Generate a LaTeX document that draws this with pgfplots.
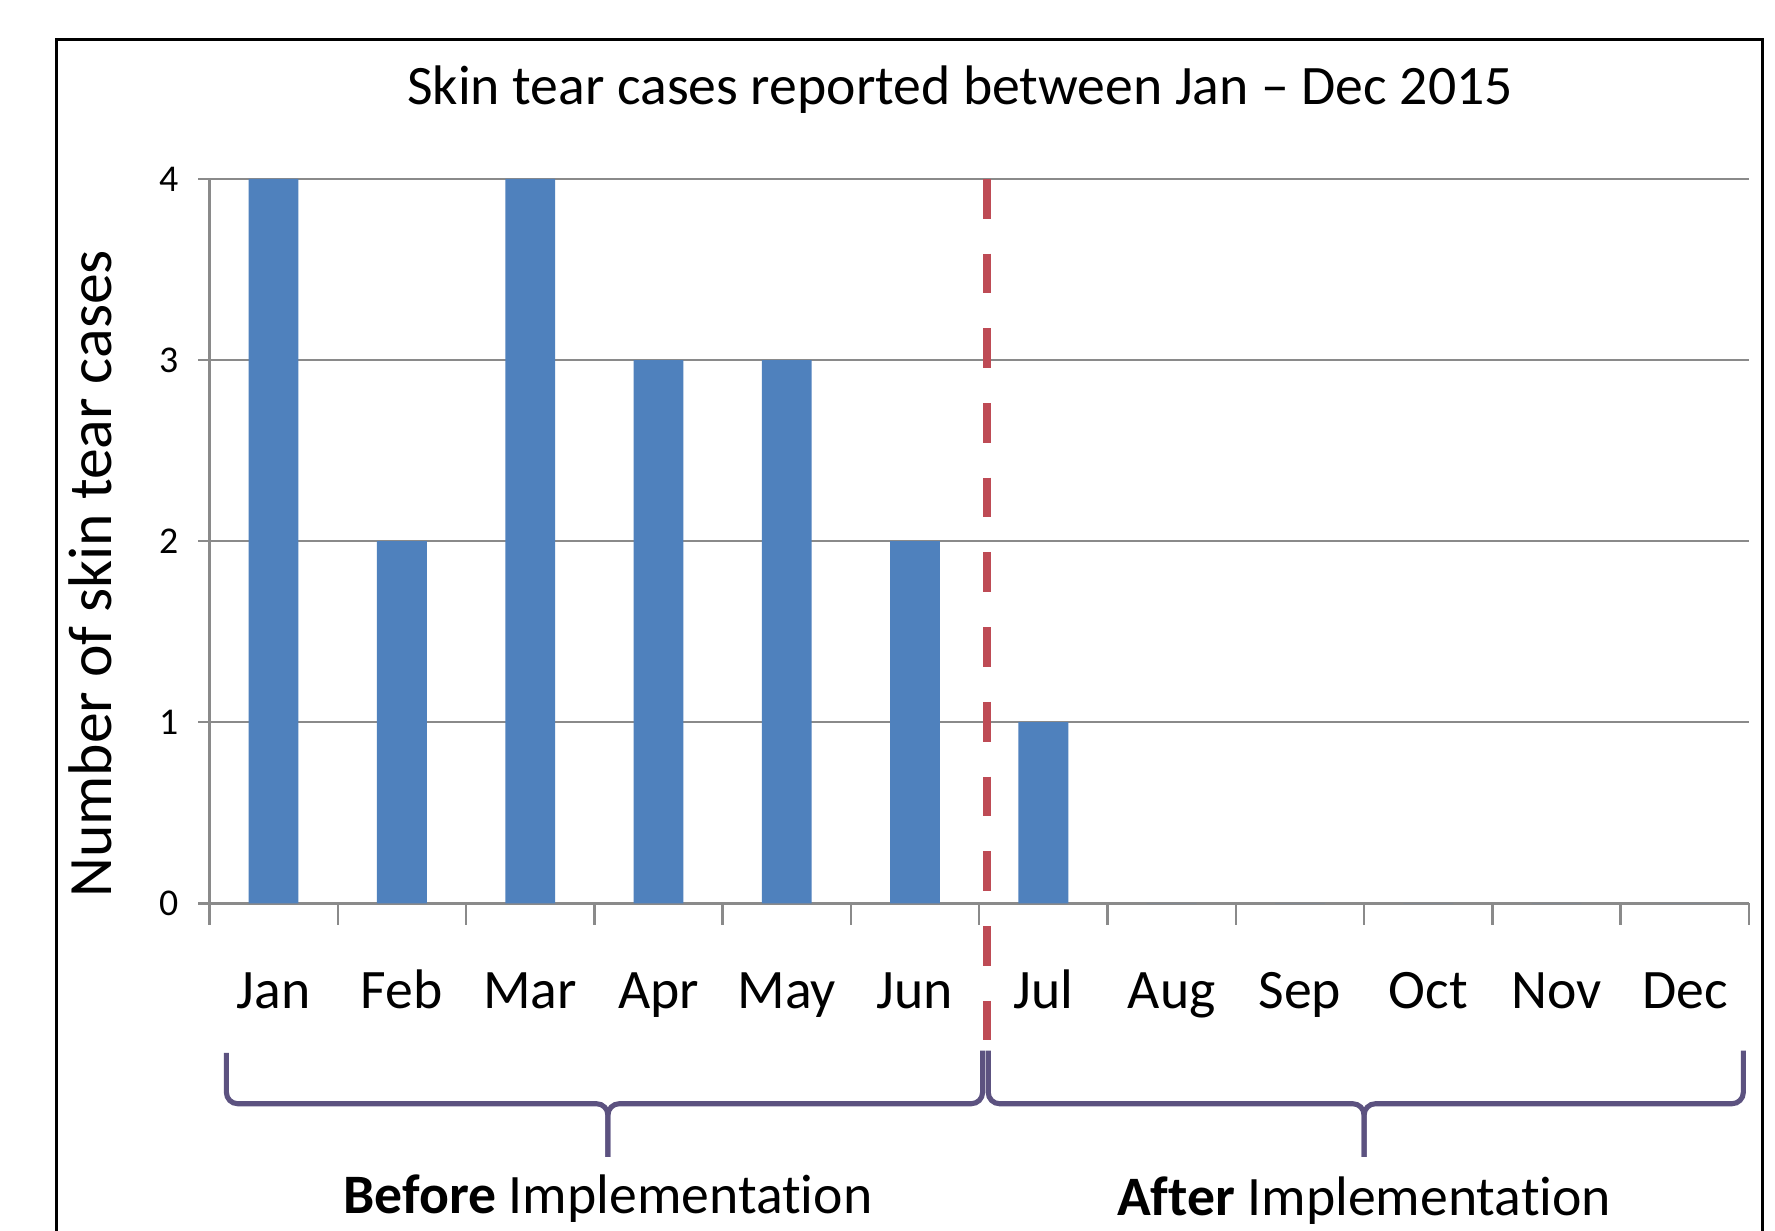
\documentclass[border=0pt]{standalone}
\usepackage{pgfplots}
\pgfplotsset{compat=1.18}
\usepackage{fontspec}
\setmainfont[Ligatures={NoCommon}]{Carlito}
\definecolor{barblue}{HTML}{4F81BD}
\definecolor{dashred}{HTML}{BE4B55}
\definecolor{bracecol}{RGB}{92,82,128}
\definecolor{gridgray}{HTML}{8A8A8A}
\begin{document}
\begin{tikzpicture}
\useasboundingbox (-1.85,-2.89) rectangle (13.83,7.98);
\fill[white] (-1.85,-2.89) rectangle (13.83,7.98);
\draw[black, line width=0.7pt] (-1.35,-3.2) -- (-1.35,7.63) -- (13.72,7.63) -- (13.72,-3.2);
\begin{axis}[
  at={(0,0)}, anchor=south west,
  scale only axis, width=13.6cm, height=6.4cm,
  xmin=-0.5, xmax=11.5, ymin=0, ymax=4,
  ybar, bar width=0.44cm,
  axis lines*=left,
  axis line style={draw=gridgray, line width=0.6pt},
  xtick={0,...,11},
  xticklabels={Jan,Feb,Mar,Apr,May,Jun,Jul,Aug,Sep,Oct,Nov,Dec},
  major x tick style={draw=none},
  minor xtick={-0.5,0.5,...,11.5},
  minor tick length=0.19cm,
  major tick length=0.1cm,
  tick align=outside,
  tick style={draw=gridgray, line width=0.6pt},
  ytick={0,1,2,3,4},
  ymajorgrids,
  grid style={draw=gridgray, line width=0.6pt},
  x tick label style={font=\fontsize{14}{16}\selectfont, anchor=base, yshift=-0.83cm},
  y tick label style={font=\fontsize{9.5}{11}\selectfont, xshift=-0.05cm},
  /pgf/number format/assume math mode=true,
  clip=false,
]
\addplot[fill=barblue, draw=none] coordinates {
(0,4) (1,2) (2,4) (3,3) (4,3) (5,2) (6,1) (7,0) (8,0) (9,0) (10,0) (11,0)};
\draw[dashred, line width=0.065cm, dash pattern=on 0.35cm off 0.31cm] (axis cs:5.56,4) -- (axis cs:5.56,-0.82);
\end{axis}
\begin{scope}[bracecol, line width=0.045cm, rounded corners=0.1cm]
\draw (0.15,-1.32) -- (0.15,-1.77) -- (3.52,-1.77) -- (3.52,-2.24);
\draw (6.83,-1.30) -- (6.83,-1.77) -- (3.52,-1.77) -- (3.52,-2.24);
\draw (6.88,-1.30) -- (6.88,-1.77) -- (10.20,-1.77) -- (10.20,-2.24);
\draw (13.55,-1.30) -- (13.55,-1.77) -- (10.20,-1.77) -- (10.20,-2.24);
\end{scope}
\node[anchor=base, font=\fontsize{14}{16}\selectfont] at (6.63,7.06) {Skin tear cases reported between Jan – Dec 2015};
\node[rotate=90, font=\fontsize{15.5}{18}\selectfont] at (-1.05,2.91) {Number of skin tear cases};
\node[anchor=base, font=\fontsize{14}{16}\selectfont] at (3.52,-2.74) {\textbf{Before} Implementation};
\node[anchor=base, font=\fontsize{14}{16}\selectfont] at (10.20,-2.76) {\textbf{After} Implementation};
\end{tikzpicture}
\end{document}
